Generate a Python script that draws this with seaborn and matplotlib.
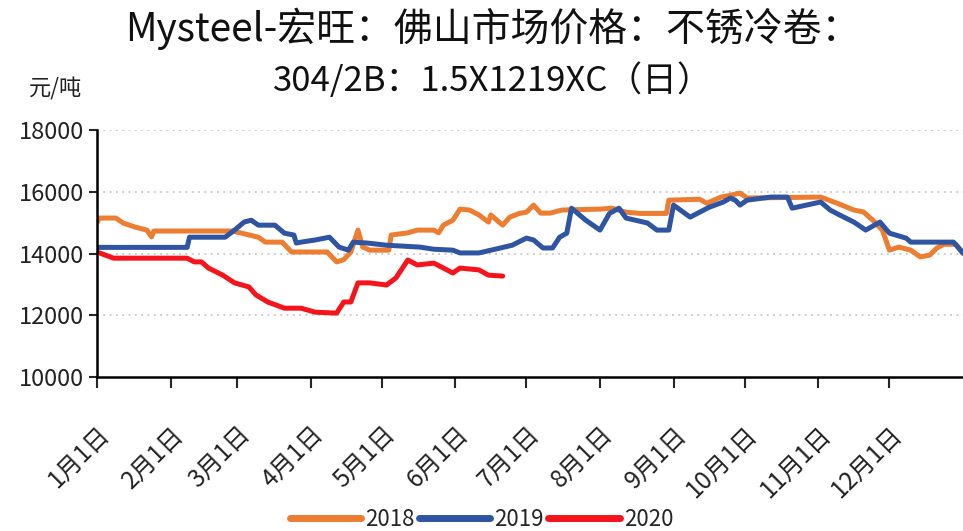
import pandas as pd
import matplotlib.pyplot as plt
import seaborn as sns

# ── Data (day of year, price in 元/吨) ───────────────────────────────────────
days_2018 = [0, 1, 8, 11, 16, 21, 23, 24, 57, 61, 68, 71, 78, 82, 97, 101, 104, 107,
             110, 112, 115, 123, 124, 131, 135, 142, 144, 146, 150, 153, 157, 161,
             165, 166, 171, 174, 178, 181, 184, 187, 191, 196, 212, 217, 223, 229,
             240, 241, 254, 257, 263, 267, 271, 274, 305, 312, 319, 323, 327, 331,
             334, 338, 343, 347, 351, 354, 357, 362, 365]
price_2018 = [15000, 15150, 15150, 14990, 14860, 14760, 14540, 14730, 14730, 14660,
              14530, 14370, 14370, 14050, 14050, 13730, 13800, 14050, 14760, 14210,
              14110, 14110, 14600, 14670, 14760, 14760, 14670, 14920, 15080, 15440,
              15410, 15250, 15020, 15250, 14920, 15180, 15300, 15340, 15570, 15310,
              15310, 15410, 15440, 15470, 15340, 15300, 15300, 15730, 15760, 15630,
              15830, 15890, 15960, 15800, 15830, 15630, 15410, 15350, 15080, 14760,
              14110, 14210, 14110, 13890, 13950, 14180, 14300, 14300, 14000]

days_2019 = [0, 38, 39, 54, 58, 62, 65, 68, 75, 79, 83, 84, 86, 92, 98, 102, 106, 108,
             114, 122, 136, 142, 150, 153, 161, 170, 175, 181, 184, 188, 192, 195,
             198, 200, 206, 212, 216, 220, 223, 232, 236, 241, 243, 250, 254, 258,
             264, 267, 269, 271, 274, 284, 291, 293, 299, 305, 309, 313, 319, 324,
             330, 334, 341, 343, 361, 365]
price_2019 = [14200, 14200, 14530, 14530, 14760, 15020, 15080, 14920, 14920, 14660,
              14600, 14340, 14370, 14440, 14530, 14210, 14110, 14370, 14340, 14270,
              14210, 14140, 14110, 14020, 14020, 14180, 14270, 14500, 14440, 14180,
              14180, 14530, 14660, 15470, 15080, 14760, 15300, 15470, 15150, 14990,
              14760, 14760, 15570, 15180, 15340, 15500, 15670, 15800, 15730, 15570,
              15730, 15830, 15830, 15470, 15570, 15670, 15410, 15250, 15020, 14760,
              15020, 14660, 14500, 14370, 14370, 14020]

days_2020 = [0, 7, 38, 41, 44, 47, 53, 58, 64, 67, 72, 79, 86, 92, 101, 104, 107, 110,
             115, 122, 126, 131, 135, 142, 146, 150, 153, 161, 165, 171]
price_2020 = [14050, 13850, 13850, 13730, 13730, 13530, 13300, 13050, 12920, 12660,
              12430, 12230, 12230, 12100, 12070, 12430, 12430, 13050, 13050, 12980,
              13210, 13790, 13630, 13690, 13530, 13370, 13530, 13470, 13300, 13270]

years = ['2018', '2019', '2020']
colors = ['#ED7D31', '#2F55A2', '#F5141C']

month_ticks = [0, 31, 59, 90, 120, 151, 181, 212, 243, 273, 304, 334]
month_labels = ['1月1日', '2月1日', '3月1日', '4月1日', '5月1日', '6月1日',
                '7月1日', '8月1日', '9月1日', '10月1日', '11月1日', '12月1日']

df = pd.concat([
    pd.DataFrame({'day': days_2018, 'price': price_2018, 'year': '2018'}),
    pd.DataFrame({'day': days_2019, 'price': price_2019, 'year': '2019'}),
    pd.DataFrame({'day': days_2020, 'price': price_2020, 'year': '2020'}),
])

sns.set_style('white')
plt.rcParams['font.family'] = ['Noto Sans CJK SC', 'DejaVu Sans']

fig = plt.figure(figsize=(9.63, 5.31), dpi=100)
ax = fig.add_axes([0.1007, 0.29, 0.8993, 0.465])

sns.lineplot(data=df, x='day', y='price', hue='year', hue_order=years,
             palette=colors, linewidth=3.6, estimator=None, sort=False,
             ax=ax, legend=False)

ax.set_xlim(0, 365)
ax.set_ylim(10000, 18000)
ax.set_yticks([10000, 12000, 14000, 16000, 18000])
ax.set_xticks(month_ticks)
ax.set_xticklabels(month_labels, rotation=45, ha='right', rotation_mode='anchor',
                   fontsize=17.5, color='#222222')
ax.set_xlabel('')
ax.set_ylabel('')

# dotted grey gridlines
for v in [12000, 14000, 16000, 18000]:
    ax.axhline(v, color='#c8c8c8', linestyle=(0, (1, 2.5)), linewidth=1.3, zorder=0)

for s in ['top', 'right']:
    ax.spines[s].set_visible(False)
for s in ['left', 'bottom']:
    ax.spines[s].set_color('black')
    ax.spines[s].set_linewidth(1.8)

ax.tick_params(axis='y', direction='out', length=6, width=1.5, labelsize=17,
               labelcolor='#222222', pad=3, left=True)
ax.tick_params(axis='x', direction='out', length=8, width=1.5, pad=24, bottom=True)

fig.text(0.512, 0.945, 'Mysteel-宏旺：佛山市场价格：不锈冷卷：', ha='center', va='center',
         fontsize=28, color='#111111')
fig.text(0.512, 0.848, '304/2B：1.5X1219XC（日）', ha='center', va='center',
         fontsize=25, color='#111111')
fig.text(0.03, 0.833, '元/吨', ha='left', va='center', fontsize=16, color='#222222')

handles = [plt.Line2D([], [], color=c, linewidth=5, solid_capstyle='round') for c in colors]
fig.legend(handles, years, loc='center', bbox_to_anchor=(0.5, 0.022), ncol=3,
           frameon=False, fontsize=16, handlelength=3.2, handletextpad=0.2,
           columnspacing=0.2)

plt.savefig('out.png', dpi=100)
